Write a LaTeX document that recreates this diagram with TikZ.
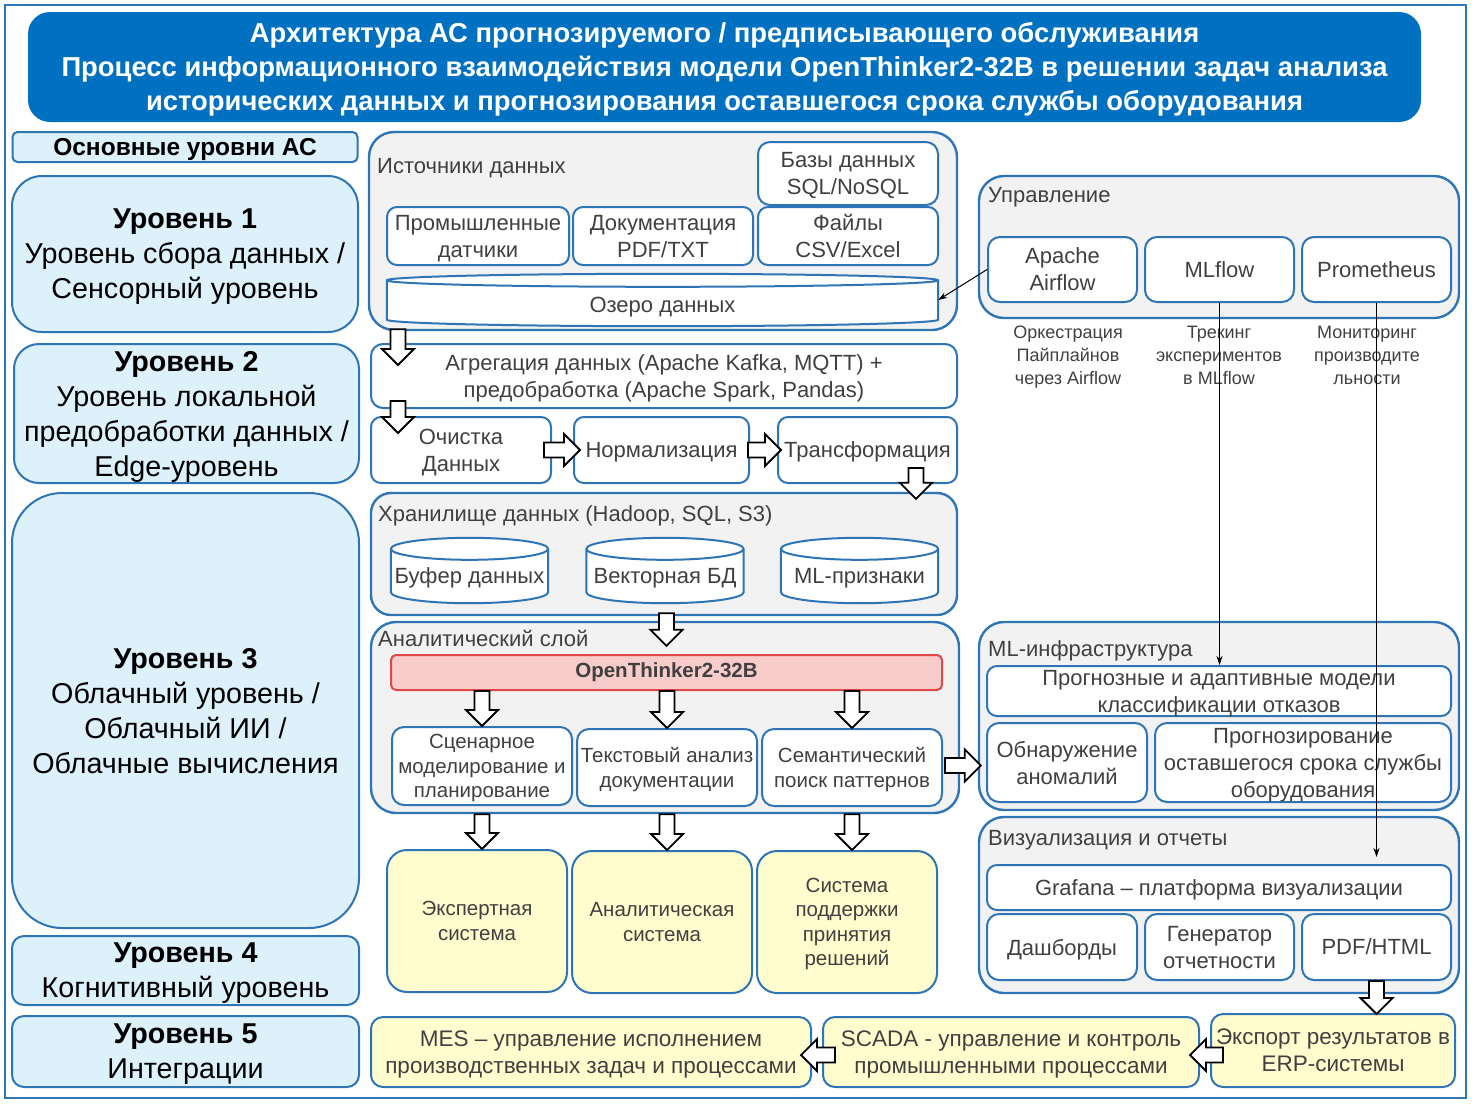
\documentclass[tikz,border=0pt]{standalone}
\usepackage{fontspec}
\setmainfont{Liberation Sans}
\usetikzlibrary{calc}
\usetikzlibrary{arrows.meta}
\definecolor{border blue}{RGB}{46,117,182}
\definecolor{title blue}{RGB}{0,112,192}
\definecolor{level fill}{RGB}{221,241,251}
\definecolor{group fill}{RGB}{242,242,242}
\definecolor{result fill}{RGB}{255,253,206}
\definecolor{model fill}{RGB}{248,204,202}
\definecolor{model border}{RGB}{222,72,72}
\definecolor{label grey}{RGB}{64,64,64}
\newcommand{\boxfont}{\fontsize{22}{27}\selectfont}
\newcommand{\smallboxfont}{\fontsize{20.5}{24.5}\selectfont}
\newcommand{\lvlfont}{\fontsize{28.7}{35}\selectfont}
\newcommand{\headfont}{\fontsize{27.4}{34}\selectfont\bfseries}
\newcommand{\notefont}{\fontsize{18}{23}\selectfont}
\newcommand{\integfont}{\fontsize{22.5}{27}\selectfont}
\tikzset{
    % Block arrows between the stages
    flow arrow/.style={draw=black, fill=white, line width=1.8pt, line join=miter},
    % Thin pointer lines from the management tools
    pointer/.style={draw=black, line width=1pt, -{Stealth[length=9pt, width=6pt]}},
    % Outline of a storage drum
    drum line/.style={draw=border blue, line width=2pt, fill=white},
    % We almost always want centre aligned node text
    every node/.style={align=center},
}
% Block arrow from #1 (tail) to #2 (tip)
\newcommand{\flowarrow}[2]{
    \coordinate (flow tail) at (#1);
    \coordinate (flow tip) at (#2);
    \coordinate (flow neck) at ($(flow tip)!16pt!(flow tail)$);
    \draw [flow arrow]
        ($(flow tail)!7.5pt!90:(flow tip)$) --
        ($(flow neck)!7.5pt!-90:(flow tail)$) --
        ($(flow neck)!16pt!-90:(flow tail)$) --
        (flow tip) --
        ($(flow neck)!16pt!90:(flow tail)$) --
        ($(flow neck)!7.5pt!90:(flow tail)$) --
        ($(flow tail)!7.5pt!-90:(flow tip)$) -- cycle;
}
% Drum drawn round the empty node #1, #2 is the half height of its ellipse
\newcommand{\drum}[2]{
    \coordinate (drum nw) at ([yshift=-#2pt]#1.north west);
    \coordinate (drum ne) at ([yshift=-#2pt]#1.north east);
    \coordinate (drum sw) at ([yshift=#2pt]#1.south west);
    \draw [drum line]
        let \p1=(drum nw), \p2=(drum ne), \n1={(\x2-\x1)/2} in
        (drum nw) -- (drum sw)
        arc [start angle=180, end angle=360, x radius=\n1, y radius=#2pt]
        -- (drum ne)
        arc [start angle=0, end angle=180, x radius=\n1, y radius=#2pt]
        -- cycle
        (drum nw)
        arc [start angle=180, end angle=360, x radius=\n1, y radius=#2pt];
}

\begin{document}
\begin{tikzpicture}[x=1pt, y=-1pt,
    box/.style={draw=border blue, line width=2pt, fill=white, rounded corners=10pt,
        inner sep=1pt, text depth=0pt, text=label grey, font=\boxfont},
    small box/.style={box, font=\smallboxfont},
    group/.style={draw=border blue, line width=2.4pt, fill=group fill, rounded corners=25pt},
    group label/.style={anchor=west, inner sep=0, text depth=0pt, text=label grey, font=\boxfont},
    level/.style={draw=border blue, line width=2pt, fill=level fill, inner sep=1pt,
        text depth=0pt, font=\lvlfont},
    result/.style={box, fill=result fill, rounded corners=20pt, font=\smallboxfont},
    drum frame/.style={inner sep=0},
    drum label/.style={inner sep=0, text=label grey, font=\boxfont},
    note/.style={inner sep=0, text=label grey, font=\notefont},
    ]
\useasboundingbox (0,0) rectangle (1472,1104);

% Outer frame and heading
\node [draw=border blue, line width=1.5pt, minimum width=1461, minimum height=1093]
    (page) at (735.5,551.5) {};
\node [fill=title blue, rounded corners=22pt, minimum width=1393, minimum height=110]
    (title) at (724.5,67) {};
\node [text=white, font=\headfont, inner sep=0] (title text) at ($(title.center)+(0,2)$)
    {Архитектура АС прогнозируемого / предписывающего обслуживания\\
     Процесс информационного взаимодействия модели OpenThinker2-32B в решении задач анализа\\
     исторических данных и прогнозирования оставшегося срока службы оборудования};

% Levels of the system
\node [level, rounded corners=5pt, font=\fontsize{24.5}{28}\selectfont\bfseries,
    minimum width=345, minimum height=30] (levels) at (185,147) {Основные уровни АС};
\node [level, rounded corners=30pt, minimum width=346, minimum height=156] (level 1) at (185,254)
    {\textbf{Уровень 1}\\Уровень сбора данных /\\Сенсорный уровень};
\node [level, rounded corners=25pt, minimum width=345, minimum height=139] (level 2) at (186.5,413.5)
    {\textbf{Уровень 2}\\Уровень локальной\\предобработки данных /\\Edge-уровень};
\node [level, rounded corners=50pt, minimum width=347, minimum height=435] (level 3) at (185.5,710.5)
    {\textbf{Уровень 3}\\Облачный уровень /\\Облачный ИИ /\\Облачные вычисления};
\node [level, rounded corners=12pt, minimum width=347, minimum height=69] (level 4) at (185.5,970.5)
    {\textbf{Уровень 4}\\Когнитивный уровень};
\node [level, rounded corners=12pt, minimum width=347, minimum height=71] (level 5) at (185.5,1051.5)
    {\textbf{Уровень 5}\\Интеграции};

% Data sources
\node [group, minimum width=588, minimum height=198] (sources) at (663,231) {};
\node [group label] (sources label) at (377,166) {Источники данных};
\node [box, rounded corners=12pt, minimum width=180, minimum height=63] (db) at (848,173.5)
    {Базы данных\\SQL/NoSQL};
\node [box, minimum width=182, minimum height=58] (sensors) at (478,236) {Промышленные\\датчики};
\node [box, minimum width=180, minimum height=58] (docs) at (663,236) {Документация\\PDF/TXT};
\node [box, minimum width=180, minimum height=58] (files) at (848,236) {Файлы\\CSV/Excel};
\node [drum frame, minimum width=551, minimum height=52] (lake) at (662.5,300) {};
\drum{lake}{6.5}
\node [drum label] (lake label) at ($(lake.center)+(0,7)$) {Озеро данных};

% Edge processing
\node [box, rounded corners=12pt, minimum width=586, minimum height=64] (agg) at (664,376)
    {Агрегация данных (Apache Kafka, MQTT) +\\предобработка (Apache Spark, Pandas)};
\node [box, minimum width=180, minimum height=66] (clean) at (461,450) {Очистка\\Данных};
\node [box, minimum width=175, minimum height=66] (norm) at (661.5,450) {Нормализация};
\node [box, minimum width=179, minimum height=66] (trans) at (867.5,450) {Трансформация};
\flowarrow{$(398,0 |- sources.south)+(0,-2)$}{$(398,0 |- agg.north)+(0,22)$}
\flowarrow{$(398,0 |- agg.south)+(0,-8)$}{$(398,0 |- clean.north)+(0,17)$}
\flowarrow{$(clean.east)+(-8,0)$}{$(norm.west)+(7,0)$}
\flowarrow{$(norm.east)+(-2,0)$}{$(trans.west)+(4,0)$}

% Storage
\node [group, rounded corners=20pt, minimum width=586, minimum height=122] (storage) at (664,554) {};
\node [group label] (storage label) at (378,514) {Хранилище данных (Hadoop, SQL, S3)};
\foreach \store/\xpos/\txt in {buffer/469.5/Буфер данных, vector/665/Векторная БД, features/859.5/ML-признаки} {
    \node [drum frame, minimum width=157, minimum height=65] (\store) at (\xpos,570.5) {};
    \drum{\store}{11}
    \node [drum label] (\store-label) at ($(\store.center)+(0,7.5)$) {\txt};
}
\flowarrow{$(916,0 |- trans.south)+(0,-16)$}{$(916,0 |- storage.north)+(0,7)$}

% Analytic layer
\node [group, minimum width=588, minimum height=191] (analytic) at (665,717.5) {};
\node [group label] (analytic label) at (378,638) {Аналитический слой};
\node [draw=model border, line width=2pt, fill=model fill, rounded corners=5pt,
    font=\fontsize{20.5}{24}\selectfont\bfseries, text=label grey,
    minimum width=551, minimum height=35] (ot) at (666.5,672.5) {OpenThinker2-32B};
\flowarrow{$(ot.north |- storage.south)+(0,-3)$}{$(ot.north |- analytic.north)+(0,25)$}
\node [small box, rounded corners=12pt, minimum width=180, minimum height=78] (scen) at (482,766)
    {Сценарное\\моделирование и\\планирование};
\node [small box, rounded corners=12pt, minimum width=180, minimum height=77] (textan) at (667,767.5)
    {Текстовый анализ\\документации};
\node [small box, rounded corners=12pt, minimum width=180, minimum height=77] (sem) at (852,767.5)
    {Семантический\\поиск паттернов};

% Cognitive systems
\node [result, minimum width=180, minimum height=142] (expert) at (477,921) {Экспертная\\система};
\node [result, minimum width=180, minimum height=142] (analysis) at (662,922) {Аналитическая\\система};
\node [result, minimum width=180, minimum height=142] (dss) at (847,922)
    {Система\\поддержки\\принятия\\решений};
\foreach \task/\system in {scen/expert, textan/analysis, sem/dss} {
    \flowarrow{\task.north |- ot.south}{\task.north}
    \flowarrow{\task.south |- analytic.south}{\task.south |- \system.north}
}

% Management tools
\node [group, minimum width=480, minimum height=142] (mgmt) at (1219,247) {};
\node [group label] (mgmt label) at (988,195) {Управление};
\node [box, rounded corners=12pt, minimum width=149, minimum height=65] (airflow) at (1062.5,269.5)
    {Apache\\Airflow};
\node [box, rounded corners=12pt, minimum width=149, minimum height=65] (mlflow) at (1219.5,269.5)
    {MLflow};
\node [box, rounded corners=12pt, minimum width=149, minimum height=65] (prom) at (1376.5,269.5)
    {Prometheus};
\node [note] (airflow note) at (1068,357) {Оркестрация\\Пайплайнов\\через Airflow};
\node [note] (mlflow note) at (1219,355) {Трекинг\\экспериментов\\в MLflow};
\node [note] (prom note) at (1367,355) {Мониторинг\\производите\\льности};

% ML infrastructure
\node [group, minimum width=480, minimum height=188] (mlinfra) at (1219,716) {};
\node [group label] (mlinfra label) at (988,649) {ML-инфраструктура};
\node [box, minimum width=464, minimum height=50] (predict) at (1219,691)
    {Прогнозные и адаптивные модели\\классификации отказов};
\node [box, rounded corners=12pt, minimum width=160, minimum height=79] (anomaly) at (1067,762.5)
    {Обнаружение\\аномалий};
\node [box, rounded corners=12pt, minimum width=296, minimum height=79] (rul) at (1303,762.5)
    {Прогнозирование\\оставшегося срока службы\\оборудования};
\flowarrow{$(sem.east)+(2,-2)$}{$(mlinfra.west |- sem.east)+(3,-2)$}

% Visualisation and reports
\node [group, minimum width=480, minimum height=176] (vis) at (1219,905) {};
\node [group label] (vis label) at (988,838) {Визуализация и отчеты};
\node [box, minimum width=464, minimum height=45] (grafana) at (1219,887.5)
    {Grafana -- платформа визуализации};
\node [box, rounded corners=12pt, minimum width=150, minimum height=66] (dash) at (1062,947) {Дашборды};
\node [box, rounded corners=12pt, minimum width=149, minimum height=66] (reports) at (1219.5,947)
    {Генератор\\отчетности};
\node [box, rounded corners=12pt, minimum width=149, minimum height=66] (pdf) at (1376.5,947) {PDF/HTML};

% Integration
\node [result, rounded corners=12pt, font=\integfont,
    minimum width=440, minimum height=70] (mes) at (591,1052)
    {MES -- управление исполнением\\производственных задач и процессами};
\node [result, rounded corners=12pt, font=\integfont,
    minimum width=376, minimum height=70] (scada) at (1011,1052)
    {SCADA - управление и контроль\\промышленными процессами};
\node [result, rounded corners=12pt, font=\integfont,
    minimum width=244, minimum height=73] (export) at (1333,1050.5)
    {Экспорт результатов в\\ERP-системы};
\flowarrow{pdf.south}{$(pdf.south |- export.north)+(0,1)$}
\flowarrow{$(export.west |- scada.east)+(13,3)$}{$(scada.east)+(-10,3)$}
\flowarrow{$(scada.west)+(13,3)$}{$(mes.east)+(-11,3)$}

% Pointers from the management tools
\draw [pointer] (airflow.west) -- (lake.east);
\draw [pointer] (mlflow.south) -- (mlflow.south |- predict.north);
\draw [pointer] (prom.south) -- ($(prom.south |- grafana.north)+(0,-7)$);

\end{tikzpicture}
\end{document}
